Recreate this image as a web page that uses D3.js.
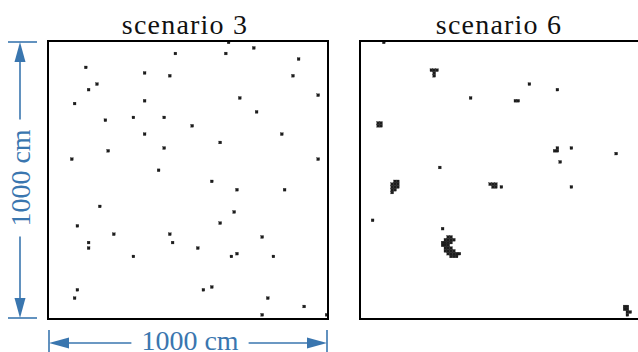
<!DOCTYPE html>
<html>
<head>
<meta charset="utf-8">
<script src="https://cdn.jsdelivr.net/npm/d3@7"></script>
<style>
  html, body { margin: 0; padding: 0; background: #fff; }
  svg { display: block; }
</style>
</head>
<body>
<svg id="chart" width="638" height="352"></svg>
<script>
// Occupied 10 cm x 10 cm cells on a 1000 cm x 1000 cm plot.
// Each entry is the lower-left corner of a cell [x cm, y cm].
const cellSize = 10;
const extent = 1000;

const scenarioTitles = ["scenario 3", "scenario 6"];
const dimensionLabel = "1000 cm";

const scenario3 = [
  [450, 950], [130, 900], [340, 880], [430, 870], [170, 840], [140, 820],
  [90, 770], [340, 780], [200, 710], [300, 720], [410, 720], [340, 660],
  [210, 600], [410, 610], [80, 570], [390, 530], [640, 990], [630, 950],
  [730, 970], [890, 930], [870, 870], [680, 790], [960, 800], [740, 740],
  [510, 690], [830, 660], [610, 630], [960, 570], [180, 400], [100, 330],
  [140, 270], [140, 250], [230, 300], [430, 300], [440, 270], [300, 220],
  [100, 100], [90, 70], [580, 490], [670, 460], [840, 460], [660, 380],
  [610, 340], [760, 290], [530, 250], [650, 220], [670, 230], [800, 220],
  [550, 100], [580, 110], [780, 70], [910, 40], [760, 10], [990, 10]
];

const scenario6 = [
  [80, 990],
  [250, 890], [260, 890], [270, 890], [260, 880], [260, 870],
  [390, 790],
  [60, 700], [70, 700], [60, 690], [70, 690],
  [280, 540],
  [600, 840], [700, 820],
  [550, 780], [560, 780],
  [700, 610], [690, 600], [700, 600],
  [750, 610], [910, 590], [710, 560],
  [120, 490], [130, 490],
  [110, 480], [120, 480], [130, 480],
  [110, 470], [120, 470], [130, 470],
  [110, 460], [120, 460],
  [110, 450],
  [460, 480], [470, 480], [480, 480], [470, 470], [480, 470], [500, 470],
  [750, 470],
  [40, 350], [290, 320],
  [310, 290], [320, 290],
  [300, 280], [310, 280], [320, 280], [330, 280],
  [290, 270], [300, 270], [310, 270], [320, 270],
  [290, 260], [300, 260], [310, 260],
  [300, 250], [310, 250], [320, 250],
  [300, 240], [310, 240], [320, 240], [330, 240],
  [310, 230], [320, 230], [330, 230], [340, 230], [350, 230],
  [320, 220], [330, 220], [340, 220],
  [940, 40], [950, 40],
  [940, 30], [950, 30],
  [950, 20], [960, 20],
  [950, 10]
];

const svg = d3.select("#chart");
const blue = "#3a76af";
const ink = "#1c1c1c";
const serif = "'Liberation Serif', 'Times New Roman', serif";

const panelTop = 41, panelBottom = 319, panelWidth = 280;
const panelLefts = [48, 360];
const titleShift = [-3, -1];
const datasets = [scenario3, scenario6];

const y = d3.scaleLinear().domain([0, extent]).range([panelBottom, panelTop]);

datasets.forEach((cells, i) => {
  const left = panelLefts[i];
  const x = d3.scaleLinear().domain([0, extent]).range([left, left + panelWidth]);
  const g = svg.append("g");

  g.selectAll("rect.cell")
    .data(cells)
    .join("rect")
    .attr("class", "cell")
    .attr("x", d => x(d[0]))
    .attr("y", d => y(d[1] + cellSize))
    .attr("width", x(cellSize) - x(0))
    .attr("height", y(0) - y(cellSize))
    .attr("fill", ink)
    .attr("stroke", ink)
    .attr("stroke-width", 0.3);

  g.append("rect")
    .attr("x", x(0))
    .attr("y", y(extent))
    .attr("width", x(extent) - x(0))
    .attr("height", y(0) - y(extent))
    .attr("fill", "none")
    .attr("stroke", "#000")
    .attr("stroke-width", 2);

  g.append("text")
    .attr("x", (x(0) + x(extent)) / 2 + titleShift[i])
    .attr("y", 34)
    .attr("text-anchor", "middle")
    .attr("font-family", serif)
    .attr("font-size", 28)
    .attr("letter-spacing", 1.2)
    .attr("fill", "#111")
    .text(scenarioTitles[i]);
});

// Dimension annotations (blue arrows with labels)
const xDim = d3.scaleLinear().domain([0, extent]).range([panelLefts[0] + 1, panelLefts[0] + panelWidth - 1]);
const ann = svg.append("g").attr("stroke", blue).attr("fill", blue);
const arrowLen = 20, arrowHalf = 5.5, labelGap = 10;

function arrowHead(tip, dir) {
  // tip: [x, y]; dir: unit vector the arrow points along
  const [tx, ty] = tip, [dx, dy] = dir;
  const bx = tx - dx * arrowLen, by = ty - dy * arrowLen;
  const px = -dy * arrowHalf, py = dx * arrowHalf;
  ann.append("path")
    .attr("d", `M${tx},${ty}L${bx + px},${by + py}L${bx - px},${by - py}Z`)
    .attr("stroke", "none");
}

// vertical dimension
const vx = 20;
const vTop = y(extent) + 1, vBot = y(0) - 1;
ann.append("line").attr("x1", 8).attr("x2", 37).attr("y1", vTop).attr("y2", vTop).attr("stroke-width", 1.6);
ann.append("line").attr("x1", 8).attr("x2", 37).attr("y1", vBot).attr("y2", vBot).attr("stroke-width", 1.6);
arrowHead([vx, vTop], [0, -1]);
arrowHead([vx, vBot], [0, 1]);
const vMid = (vTop + vBot) / 2 - 2;
const vText = ann.append("text")
  .attr("transform", `translate(30,${vMid}) rotate(-90)`)
  .attr("text-anchor", "middle")
  .attr("font-family", serif)
  .attr("font-size", 28)
  .attr("stroke", "none")
  .text(dimensionLabel);
const vHalf = vText.node().getComputedTextLength() / 2 + labelGap;
ann.append("line").attr("x1", vx).attr("x2", vx).attr("y1", vTop + arrowLen - 1).attr("y2", vMid - vHalf).attr("stroke-width", 1.6);
ann.append("line").attr("x1", vx).attr("x2", vx).attr("y1", vMid + vHalf).attr("y2", vBot - arrowLen + 1).attr("stroke-width", 1.6);

// horizontal dimension
const hy = 343;
const hL = xDim(0), hR = xDim(extent);
ann.append("line").attr("x1", hL).attr("x2", hL).attr("y1", 330).attr("y2", 352).attr("stroke-width", 1.6);
ann.append("line").attr("x1", hR).attr("x2", hR).attr("y1", 330).attr("y2", 352).attr("stroke-width", 1.6);
arrowHead([hL, hy], [-1, 0]);
arrowHead([hR, hy], [1, 0]);
const hMid = (hL + hR) / 2 + 2;
const hText = ann.append("text")
  .attr("x", hMid)
  .attr("y", 350)
  .attr("text-anchor", "middle")
  .attr("font-family", serif)
  .attr("font-size", 28)
  .attr("stroke", "none")
  .text(dimensionLabel);
const hHalf = hText.node().getComputedTextLength() / 2 + labelGap;
ann.append("line").attr("x1", hL + arrowLen - 1).attr("x2", hMid - hHalf).attr("y1", hy).attr("y2", hy).attr("stroke-width", 1.6);
ann.append("line").attr("x1", hMid + hHalf).attr("x2", hR - arrowLen + 1).attr("y1", hy).attr("y2", hy).attr("stroke-width", 1.6);
</script>
</body>
</html>
